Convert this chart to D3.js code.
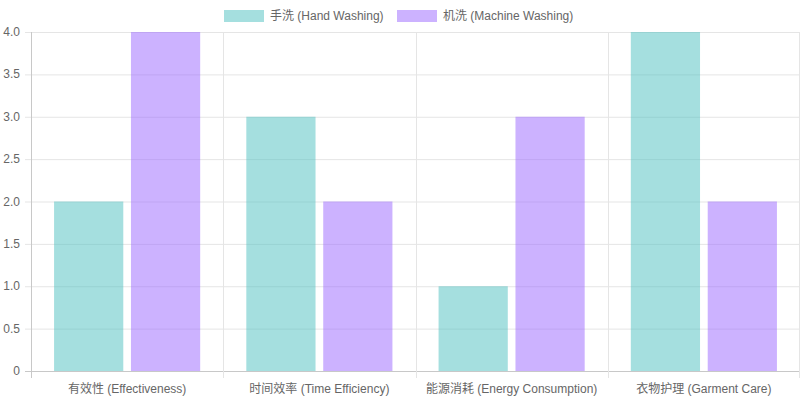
<!DOCTYPE html>
<html><head><meta charset="utf-8">
<script src="https://cdn.jsdelivr.net/npm/d3@7"></script>
<style>body{margin:0;background:#fff}text{font-family:"Liberation Sans","Noto Sans CJK SC",sans-serif}</style>
</head><body><svg id="c" width="800" height="400"></svg>
<script>
var categories = ["有效性 (Effectiveness)", "时间效率 (Time Efficiency)", "能源消耗 (Energy Consumption)", "衣物护理 (Garment Care)"];
var seriesNames = ["手洗 (Hand Washing)", "机洗 (Machine Washing)"];
var handWashing = [2, 3, 1, 4];
var machineWashing = [4, 2, 3, 2];
var yTicks = [0, 0.5, 1, 1.5, 2, 2.5, 3, 3.5, 4];
var fills = ["rgba(75,192,192,0.5)", "rgba(153,102,255,0.5)"];

var svg = d3.select("#c");
var plotLeft = 31, plotRight = 800, plotTop = 32, plotBottom = 371;
var x = d3.scaleBand().domain(categories).range([plotLeft, plotRight]);
var x1 = d3.scaleBand().domain([0, 1]).range([0, x.bandwidth() * 0.8]).paddingInner(0.1).paddingOuter(0.05);
var y = d3.scaleLinear().domain([0, 4]).range([plotBottom, plotTop]);

// grid
svg.selectAll(".hg").data(yTicks).enter().append("line")
  .attr("x1", plotLeft - 6).attr("x2", plotRight).attr("y1", d => y(d) + 0.5).attr("y2", d => y(d) + 0.5)
  .attr("stroke", d => d === 0 ? "#c8c8c8" : "#e5e5e5");
var bounds = categories.map(c => x(c)).concat([plotRight - 1]);
svg.selectAll(".vg").data(bounds).enter().append("line")
  .attr("x1", d => Math.round(d) + 0.5).attr("x2", d => Math.round(d) + 0.5)
  .attr("y1", plotTop).attr("y2", plotBottom + 7)
  .attr("stroke", (d, i) => i === 0 ? "#c8c8c8" : "#e5e5e5");

svg.selectAll(".yt").data(yTicks).enter().append("text")
  .attr("x", 20).attr("y", d => y(d) + 4).attr("text-anchor", "end")
  .attr("font-size", 12).attr("fill", "#666").text(d => d.toFixed(d === 0 ? 0 : 1));
svg.selectAll(".xt").data(categories).enter().append("text")
  .attr("x", d => x(d) + x.bandwidth() / 2).attr("y", 393).attr("text-anchor", "middle")
  .attr("font-size", 12).attr("fill", "#666").text(d => d);

// bars
[handWashing, machineWashing].forEach(function (vals, s) {
  svg.selectAll(".b" + s).data(vals).enter().append("rect")
    .attr("x", (d, i) => x(categories[i]) + x.bandwidth() * 0.1 + x1(s))
    .attr("width", x1.bandwidth())
    .attr("y", d => y(d)).attr("height", d => plotBottom - y(d))
    .attr("fill", fills[s]);
});

// legend
var lg = svg.append("g");
var lx = [224, 397];
seriesNames.forEach(function (n, i) {
  lg.append("rect").attr("x", lx[i]).attr("y", 10).attr("width", 40).attr("height", 12).attr("fill", fills[i]);
  lg.append("text").attr("x", lx[i] + 46).attr("y", 20).attr("font-size", 12).attr("fill", "#666").text(n);
});
</script></body></html>
